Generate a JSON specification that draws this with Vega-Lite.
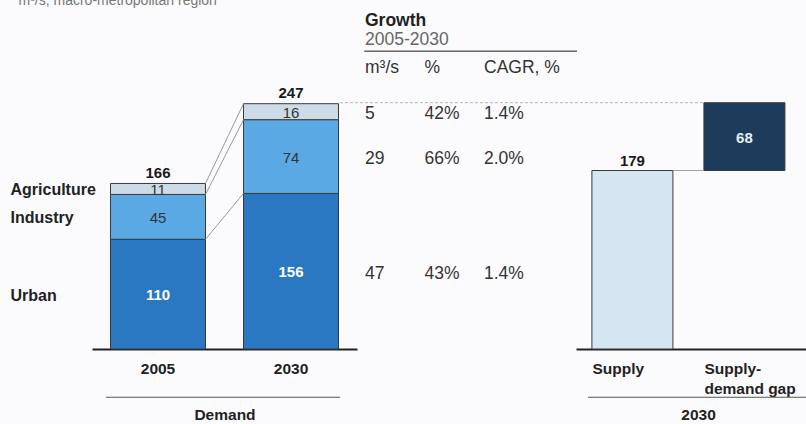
{
  "$schema": "https://vega.github.io/schema/vega-lite/v6.json",
  "width": 806,
  "height": 349,
  "autosize": {"type": "none"},
  "padding": {"left": 0, "top": 0, "right": 0, "bottom": 75},
  "background": "#fbfbfd",
  "config": {"view": {"stroke": null}, "font": "Liberation Sans", "text": {"font": "Liberation Sans"}},
  "datasets": {
    "demand": [
      {"year": "2005", "sector": "Urban", "value": 110, "rank": 1},
      {"year": "2005", "sector": "Industry", "value": 45, "rank": 2},
      {"year": "2005", "sector": "Agriculture", "value": 11, "rank": 3},
      {"year": "2030", "sector": "Urban", "value": 156, "rank": 1},
      {"year": "2030", "sector": "Industry", "value": 74, "rank": 2},
      {"year": "2030", "sector": "Agriculture", "value": 16, "rank": 3}
    ],
    "totals": [{"year": "2005", "total": 166}, {"year": "2030", "total": 247}],
    "links": [{"from": 166, "to": 246}, {"from": 155, "to": 230}, {"from": 110, "to": 156}],
    "balance": [
      {"item": "Supply", "low": 0, "high": 179, "label": "179"},
      {"item": "Supply-demand gap", "low": 179, "high": 247, "label": "68"}
    ],
    "growth": [
      {"sector": "Urban", "rank": 1, "v2030": 156, "col": "m³/s", "text": "47"},
      {"sector": "Urban", "rank": 1, "v2030": 156, "col": "%", "text": "43%"},
      {"sector": "Urban", "rank": 1, "v2030": 156, "col": "CAGR, %", "text": "1.4%"},
      {"sector": "Industry", "rank": 2, "v2030": 74, "col": "m³/s", "text": "29"},
      {"sector": "Industry", "rank": 2, "v2030": 74, "col": "%", "text": "66%"},
      {"sector": "Industry", "rank": 2, "v2030": 74, "col": "CAGR, %", "text": "2.0%"},
      {"sector": "Agriculture", "rank": 3, "v2030": 16, "col": "m³/s", "text": "5"},
      {"sector": "Agriculture", "rank": 3, "v2030": 16, "col": "%", "text": "42%"},
      {"sector": "Agriculture", "rank": 3, "v2030": 16, "col": "CAGR, %", "text": "1.4%"}
    ],
    "header": [{"col": "m³/s"}, {"col": "%"}, {"col": "CAGR, %"}]
  },
  "resolve": {"scale": {"x": "independent"}, "axis": {"x": "independent"}},
  "layer": [
    {
      "layer": [
        {
          "data": {"name": "demand"},
          "mark": {"type": "bar", "stroke": "#3a3a3a", "strokeWidth": 1},
          "encoding": {
            "x": {
              "field": "year", "type": "nominal",
              "scale": {"domain": ["2005", "2030"], "range": [92, 357], "paddingInner": 0.2857, "paddingOuter": 0.139, "align": 0.5},
              "axis": {"orient": "bottom", "title": "Demand", "domainColor": "#222", "domainWidth": 2, "ticks": false,
                "labelFont": "Liberation Sans", "labelFontWeight": "bold", "labelFontSize": 15.5, "labelColor": "#222",
                "labelPadding": 12, "labelAngle": 0, "labelOverlap": false,
                "titleFont": "Liberation Sans", "titleFontWeight": "bold", "titleFontSize": 15.5, "titleColor": "#222", "titlePadding": 31}
            },
            "y": {"field": "value", "type": "quantitative", "stack": "zero", "scale": {"domain": [0, 345]}, "axis": null},
            "color": {"field": "sector", "type": "nominal", "scale": {"domain": ["Urban", "Industry", "Agriculture"], "range": ["#2a77c2", "#5aa9e4", "#cddbe6"]}, "legend": null},
            "order": {"field": "rank", "type": "quantitative"}
          }
        },
        {
          "data": {"name": "links"},
          "mark": {"type": "rule", "color": "#9a9a9a", "strokeWidth": 1},
          "encoding": {
            "x": {"datum": "2005", "type": "nominal", "bandPosition": 1},
            "x2": {"datum": "2030", "bandPosition": 0},
            "y": {"field": "from", "type": "quantitative"},
            "y2": {"field": "to"}
          }
        },
        {
          "data": {"name": "demand"},
          "mark": {"type": "text", "font": "Liberation Sans", "fontSize": 15, "fontWeight": "bold", "color": "white", "baseline": "middle", "dy": 1},
          "encoding": {
            "x": {"field": "year", "type": "nominal"},
            "y": {"field": "value", "type": "quantitative", "stack": "zero", "bandPosition": 0.5},
            "order": {"field": "rank", "type": "quantitative"},
            "text": {"field": "value", "type": "quantitative"},
            "opacity": {"condition": {"test": "datum.sector === 'Urban'", "value": 1}, "value": 0}
          }
        },
        {
          "data": {"name": "demand"},
          "mark": {"type": "text", "font": "Liberation Sans", "fontSize": 15, "fontWeight": "normal", "color": "#333", "baseline": "middle", "dy": 1},
          "encoding": {
            "x": {"field": "year", "type": "nominal"},
            "y": {"field": "value", "type": "quantitative", "stack": "zero", "bandPosition": 0.5},
            "order": {"field": "rank", "type": "quantitative"},
            "text": {"field": "value", "type": "quantitative"},
            "opacity": {"condition": {"test": "datum.sector === 'Urban'", "value": 0}, "value": 1}
          }
        },
        {
          "data": {"name": "demand"},
          "transform": [{"filter": "datum.year === '2005'"}],
          "mark": {"type": "text", "font": "Liberation Sans", "fontSize": 16, "fontWeight": "bold", "color": "#222", "align": "left", "baseline": "middle", "dx": -100, "dy": 1.5},
          "encoding": {
            "x": {"field": "year", "type": "nominal", "bandPosition": 0},
            "y": {"field": "value", "type": "quantitative", "stack": "zero", "bandPosition": 0.5},
            "order": {"field": "rank", "type": "quantitative"},
            "text": {"field": "sector", "type": "nominal"}
          }
        },
        {
          "data": {"name": "totals"},
          "mark": {"type": "text", "font": "Liberation Sans", "fontSize": 15, "fontWeight": "bold", "color": "#1a1a1a", "baseline": "alphabetic", "dy": -5},
          "encoding": {
            "x": {"field": "year", "type": "nominal"},
            "y": {"field": "total", "type": "quantitative"},
            "text": {"field": "total", "type": "quantitative"}
          }
        },
        {
          "data": {"values": [{"t": "m³/s, macro-metropolitan region"}]},
          "mark": {"type": "text", "font": "Liberation Sans", "fontSize": 14, "color": "#777", "align": "left", "baseline": "middle", "dx": -92},
          "encoding": {
            "x": {"datum": "2005", "type": "nominal", "bandPosition": 0},
            "y": {"datum": 349, "type": "quantitative"},
            "text": {"field": "t", "type": "nominal"}
          }
        },
        {
          "data": {"values": [{"g": "Demand"}]},
          "mark": {"type": "rule", "color": "#555", "strokeWidth": 1},
          "encoding": {
            "x": {"datum": "2005", "type": "nominal", "bandPosition": -0.047},
            "x2": {"datum": "2030", "bandPosition": 1.016},
            "y": {"datum": -48.4, "type": "quantitative"}
          }
        }
      ]
    },
    {
      "layer": [
        {
          "data": {"name": "balance"},
          "mark": {"type": "bar", "stroke": "#3a3a3a", "strokeWidth": 1},
          "encoding": {
            "x": {
              "field": "item", "type": "nominal",
              "scale": {"domain": ["Supply", "Supply-demand gap"], "range": [576, 806], "paddingInner": 0.2768, "paddingOuter": 0.165, "align": 0.43},
              "axis": {"orient": "bottom", "title": "2030", "domainColor": "#222", "domainWidth": 2, "ticks": false,
                "labelFont": "Liberation Sans", "labelFontWeight": "bold", "labelFontSize": 15.5, "labelColor": "#222",
                "labelPadding": 12, "labelAngle": 0, "labelAlign": "left", "labelOffset": -40, "labelOverlap": false, "labelLineHeight": 20,
                "labelExpr": "datum.value === 'Supply-demand gap' ? ['Supply-', 'demand gap'] : datum.value",
                "titleFont": "Liberation Sans", "titleFontWeight": "bold", "titleFontSize": 15.5, "titleColor": "#222", "titlePadding": 11, "titleX": 698}
            },
            "y": {"field": "low", "type": "quantitative"},
            "y2": {"field": "high"},
            "fill": {"condition": {"test": "datum.item === 'Supply'", "value": "#d5e5f2"}, "value": "#1d3b5b"}
          }
        },
        {
          "data": {"name": "balance"},
          "transform": [{"filter": "datum.item === 'Supply'"}],
          "mark": {"type": "text", "font": "Liberation Sans", "fontSize": 15, "fontWeight": "bold", "color": "#1a1a1a", "baseline": "alphabetic", "dy": -5},
          "encoding": {
            "x": {"field": "item", "type": "nominal"},
            "y": {"field": "high", "type": "quantitative"},
            "text": {"field": "label", "type": "nominal"}
          }
        },
        {
          "data": {"name": "balance"},
          "transform": [{"filter": "datum.item === 'Supply-demand gap'"}],
          "mark": {"type": "text", "font": "Liberation Sans", "fontSize": 15, "fontWeight": "bold", "color": "#e8eef4", "baseline": "middle", "dy": 35},
          "encoding": {
            "x": {"field": "item", "type": "nominal"},
            "y": {"field": "high", "type": "quantitative"},
            "text": {"field": "label", "type": "nominal"}
          }
        },
        {
          "data": {"values": [{"r": "gap top"}]},
          "mark": {"type": "rule", "color": "#b5b5b5", "strokeWidth": 1, "strokeDash": [3, 2]},
          "encoding": {
            "x": {"datum": "Supply", "type": "nominal", "bandPosition": -3.11},
            "x2": {"datum": "Supply-demand gap", "bandPosition": 0},
            "y": {"datum": 247, "type": "quantitative"}
          }
        },
        {
          "data": {"values": [{"r": "supply top"}]},
          "mark": {"type": "rule", "color": "#a0a0a0", "strokeWidth": 1},
          "encoding": {
            "x": {"datum": "Supply", "type": "nominal", "bandPosition": 1},
            "x2": {"datum": "Supply-demand gap", "bandPosition": 0},
            "y": {"datum": 179, "type": "quantitative"}
          }
        },
        {
          "data": {"values": [{"r": "2030 group"}]},
          "mark": {"type": "rule", "color": "#555", "strokeWidth": 1},
          "encoding": {
            "x": {"datum": "Supply", "type": "nominal", "bandPosition": -0.048},
            "x2": {"datum": "Supply-demand gap", "bandPosition": 1.26},
            "y": {"datum": -48.4, "type": "quantitative"}
          }
        },
        {
          "data": {"values": [{"r": "growth underline"}]},
          "mark": {"type": "rule", "color": "#666", "strokeWidth": 1.5},
          "encoding": {
            "x": {"datum": "Supply", "type": "nominal", "bandPosition": -2.81},
            "x2": {"datum": "Supply", "bandPosition": -0.184},
            "y": {"datum": 298.5, "type": "quantitative"}
          }
        }
      ]
    },
    {
      "layer": [
        {
          "data": {"name": "header"},
          "mark": {"type": "text", "font": "Liberation Sans", "fontSize": 17.5, "color": "#333", "align": "left", "baseline": "middle"},
          "encoding": {
            "x": {"field": "col", "type": "nominal", "scale": {"type": "point", "domain": ["m³/s", "%", "CAGR, %"], "range": [365, 484], "padding": 0}, "axis": null},
            "y": {"datum": 281.7, "type": "quantitative"},
            "text": {"field": "col", "type": "nominal"}
          }
        },
        {
          "data": {"name": "growth"},
          "mark": {"type": "text", "font": "Liberation Sans", "fontSize": 17.5, "color": "#333", "align": "left", "baseline": "middle", "dy": 2.5},
          "encoding": {
            "x": {"field": "col", "type": "nominal"},
            "y": {"field": "v2030", "type": "quantitative", "stack": "zero", "bandPosition": 0.5},
            "order": {"field": "rank", "type": "quantitative"},
            "text": {"field": "text", "type": "nominal"}
          }
        },
        {
          "data": {"values": [{"t": "Growth"}]},
          "mark": {"type": "text", "font": "Liberation Sans", "fontSize": 17.5, "fontWeight": "bold", "color": "#222", "align": "left", "baseline": "middle"},
          "encoding": {
            "x": {"datum": "m³/s", "type": "nominal"},
            "y": {"datum": 329, "type": "quantitative"},
            "text": {"field": "t", "type": "nominal"}
          }
        },
        {
          "data": {"values": [{"t": "2005-2030"}]},
          "mark": {"type": "text", "font": "Liberation Sans", "fontSize": 17.5, "color": "#666", "align": "left", "baseline": "middle"},
          "encoding": {
            "x": {"datum": "m³/s", "type": "nominal"},
            "y": {"datum": 309.4, "type": "quantitative"},
            "text": {"field": "t", "type": "nominal"}
          }
        }
      ]
    }
  ]
}
